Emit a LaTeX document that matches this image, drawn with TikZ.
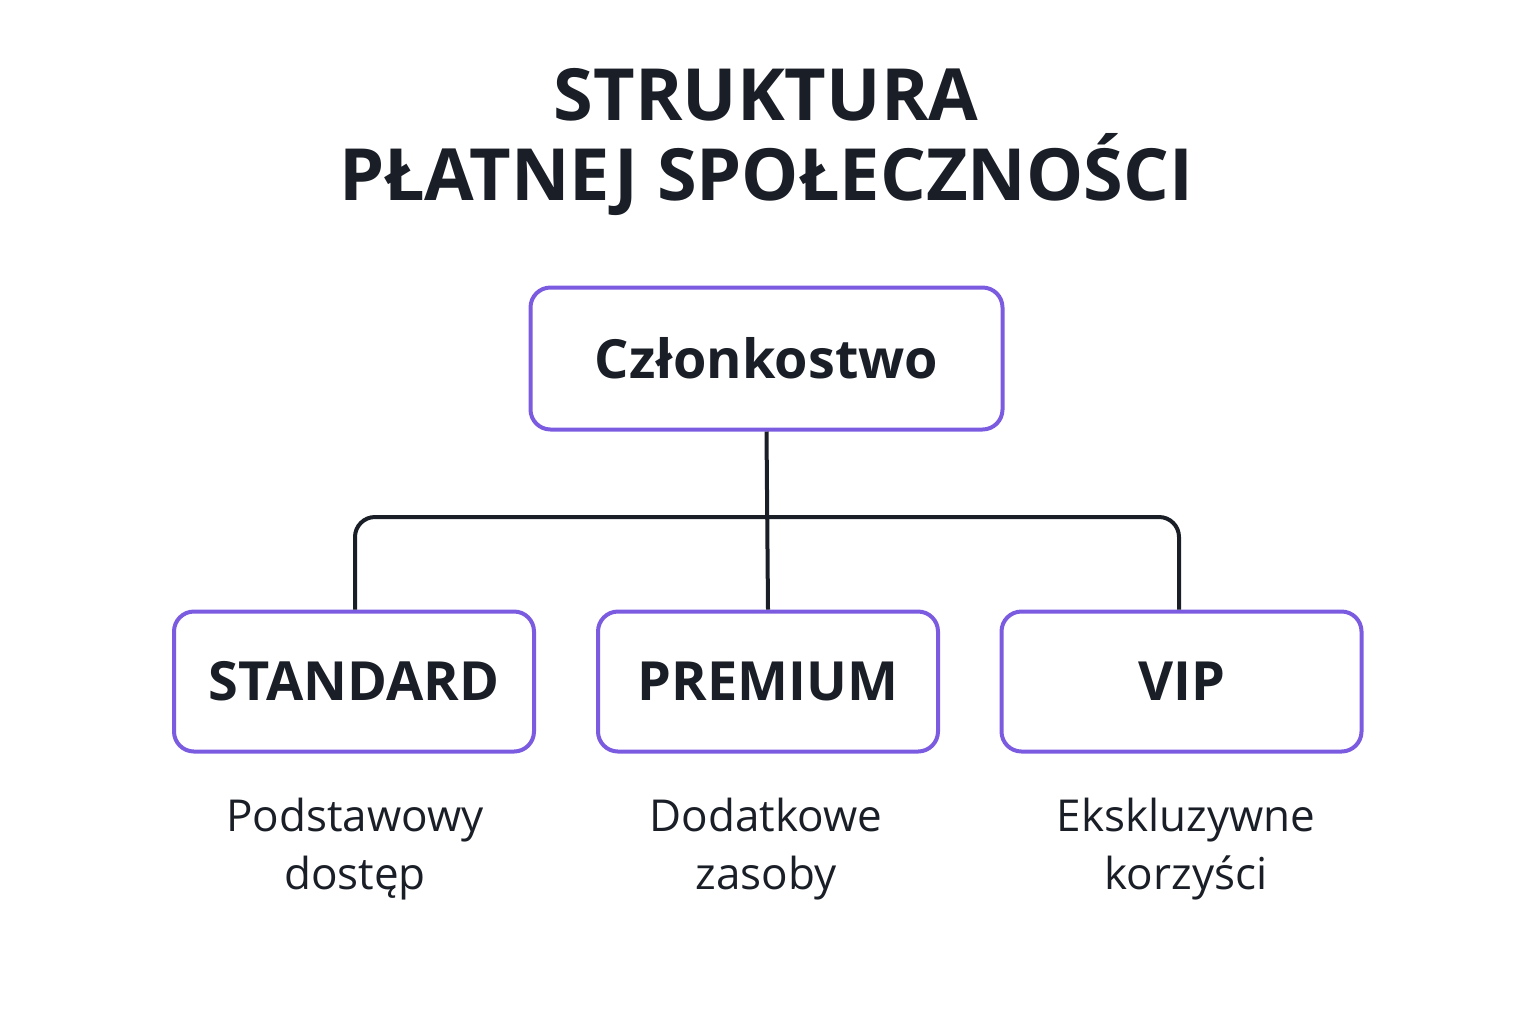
\documentclass[tikz,border=0pt]{standalone}
\usepackage{fontspec}
\setmainfont{Open Sans}
\definecolor{purp}{HTML}{7B5CE0}
\definecolor{ink}{HTML}{1A1E27}
\begin{document}
\begin{tikzpicture}[x=0.5pt,y=-0.5pt,
  box/.style={draw=purp,line width=2pt,rounded corners=10pt,fill=white,text=ink,font=\bfseries\fontsize{27}{30}\selectfont,inner sep=0pt},
  desc/.style={text=ink,font=\fontsize{22}{29}\selectfont,align=center},
  conn/.style={draw=ink,line width=2pt,rounded corners=10pt}]
\useasboundingbox (0,0) rectangle (1536,1024);
\node[text=ink,font=\bfseries\fontsize{36}{40}\selectfont,align=center] (title) at (766,142) {STRUKTURA\\PŁATNEJ SPOŁECZNOŚCI};
\node[box,minimum width=236pt,minimum height=71pt] (root) at (766.5,358.5) {Członkostwo};
\node[box,minimum width=180pt,minimum height=70pt] (std) at (354,681.5) {STANDARD};
\node[box,minimum width=170pt,minimum height=70pt] (prem) at (768,681.5) {PREMIUM};
\node[box,minimum width=180pt,minimum height=70pt] (vip) at (1181.5,681.5) {VIP};
\coordinate (j) at (767,517);
\draw[conn] (root.south) -- (prem.north);
\draw[conn] (std.north -| 355,0) -- (355,517) -- (1179,517) -- (vip.north -| 1179,0);
\node[desc] (d1) at (355,849) {Podstawowy\\dostęp};
\node[desc] (d2) at (766,849) {Dodatkowe\\zasoby};
\node[desc] (d3) at (1186,849) {Ekskluzywne\\korzyści};
\end{tikzpicture}
\end{document}
